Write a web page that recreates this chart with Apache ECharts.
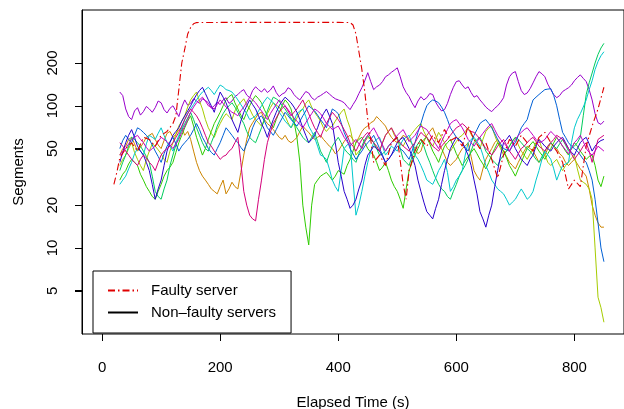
<!DOCTYPE html>
<html><head><meta charset="utf-8">
<script src="https://cdn.jsdelivr.net/npm/echarts@6/dist/echarts.min.js"></script>
<style>html,body{margin:0;padding:0;background:#fff}#c{width:624px;height:409px}</style>
</head><body><div id="c"></div>
<script>
const time = [
 30,35,40,45,50,55,60,65,70,75,80,85,90,95,100,105,110,115,120,125,
 130,135,140,145,150,155,160,165,170,175,180,185,190,195,200,205,210,215,220,225,
 230,235,240,245,250,255,260,265,270,275,280,285,290,295,300,305,310,315,320,325,
 330,335,340,345,350,355,360,365,370,375,380,385,390,395,400,405,410,415,420,425,
 430,435,440,445,450,455,460,465,470,475,480,485,490,495,500,505,510,515,520,525,
 530,535,540,545,550,555,560,565,570,575,580,585,590,595,600,605,610,615,620,625,
 630,635,640,645,650,655,660,665,670,675,680,685,690,695,700,705,710,715,720,725,
 730,735,740,745,750,755,760,765,770,775,780,785,790,795,800,805,810,815,820,825,
 830,835,840,845,850];
const purple = [
 125,118,95,84,80,92,97,86,91,99,95,90,97,108,105,94,89,96,100,92,
 84,98,110,101,104,112,108,104,112,109,105,96,100,106,102,110,114,104,108,116,
 120,126,130,119,114,128,136,130,125,132,124,129,138,124,116,121,124,134,130,120,
 114,110,118,126,123,114,110,115,118,122,126,121,116,112,110,108,105,99,94,102,
 110,122,134,150,171,148,130,136,140,148,160,165,172,178,185,160,136,124,116,105,
 97,108,116,110,114,122,120,106,98,92,94,104,120,135,148,150,140,132,136,124,
 115,118,110,104,98,94,91,96,100,106,114,140,160,170,174,148,128,120,123,132,
 145,160,174,168,160,142,130,120,114,118,126,130,134,140,150,158,165,156,148,130,
 110,88,76,74,78];
const orange = [
 45,50,52,58,60,54,48,51,55,60,62,64,58,53,50,57,64,66,60,63,
 68,70,62,66,58,48,40,35,32,30,28,26,25,24,27,30,24,26,29,27,
 26,34,45,58,70,76,82,88,90,80,75,72,68,64,60,58,62,57,55,57,
 60,66,72,68,65,61,58,60,62,58,55,52,50,46,48,52,56,60,62,58,
 55,60,66,70,72,76,78,84,80,76,72,65,60,57,55,58,62,60,58,54,
 50,46,48,56,62,66,70,62,55,50,45,40,38,40,42,46,50,52,55,44,
 35,32,30,36,42,46,50,55,58,52,48,44,40,38,36,40,44,48,52,50,
 48,44,40,42,45,50,55,52,50,46,44,40,38,40,42,39,36,34,32,26,
 20,17,15,14,14];
const yellowGreen = [
 38,42,45,50,55,47,42,38,35,42,48,54,52,49,46,42,40,48,55,63,
 72,78,85,98,110,118,125,108,95,80,70,64,60,68,75,82,88,84,80,92,
 100,106,112,102,95,86,80,76,72,80,88,97,105,101,98,90,85,76,70,75,
 82,90,95,104,110,98,90,84,78,70,66,70,72,78,84,90,95,80,70,56,
 45,48,50,56,60,58,55,50,48,55,62,66,70,62,58,54,52,57,60,64,
 68,72,75,66,60,55,52,58,65,60,55,50,48,52,56,60,62,66,70,63,
 58,54,50,58,66,70,72,62,55,50,45,48,52,57,60,53,48,45,42,46,
 50,55,58,50,45,40,38,40,42,38,35,38,40,43,45,36,30,29,28,26,
 22,10,4.5,3.8,3];
const green = [
 30,33,35,39,42,40,38,33,30,27,25,23,22,25,28,32,35,37,40,47,
 55,62,70,78,85,72,60,52,45,50,58,66,75,82,90,100,110,116,120,105,
 95,86,80,90,100,110,118,112,105,94,85,76,70,80,90,100,110,104,95,78,
 60,40,20,14,10.5,20,28,30,32,33,34,32,30,32,35,34,33,38,42,48,
 55,58,60,55,50,47,45,40,35,37,40,35,30,27,25,22,19,26,35,40,
 45,50,55,58,60,54,48,44,40,46,52,55,58,52,46,42,38,41,44,47,
 50,46,42,39,36,40,45,50,55,52,48,43,38,35,32,36,40,45,50,53,
 56,52,48,45,42,46,50,55,60,56,52,48,45,50,55,52,48,45,42,44,
 45,38,30,27,32];
const springGreen = [
 35,40,45,52,60,58,55,52,48,44,40,32,25,23,22,26,30,38,45,53,
 60,68,75,82,90,80,70,62,55,50,48,55,62,72,80,88,95,100,105,98,
 90,82,75,66,60,57,55,62,70,80,92,104,115,112,108,100,95,88,82,76,
 70,65,60,57,55,60,65,56,48,44,40,46,52,56,60,55,50,47,45,42,
 40,46,52,58,62,58,55,50,45,46,48,52,55,58,60,50,42,40,38,44,
 50,54,58,52,45,40,35,31,28,26,25,23,22,25,28,32,35,38,42,48,
 55,58,60,54,48,45,42,40,38,42,45,48,52,56,60,58,55,52,50,48,
 45,42,40,44,48,52,55,52,50,54,58,53,48,50,52,55,60,85,120,145,
 170,200,230,255,275];
const cyan = [
 28,30,32,36,40,46,50,48,45,54,62,60,58,64,70,62,55,52,48,55,
 62,70,80,88,95,102,110,118,125,130,135,128,120,130,140,136,130,128,125,118,
 110,102,95,88,80,82,85,92,100,108,115,110,105,98,90,84,78,74,70,78,
 88,92,95,84,72,66,60,52,45,44,42,36,30,27,25,35,50,53,55,30,
 17,20,25,32,40,48,55,58,60,52,45,48,52,50,48,53,58,60,62,54,
 45,42,38,34,30,29,28,31,35,38,42,34,25,27,30,32,35,45,55,58,
 60,56,52,45,38,34,30,28,26,25,24,22,20,21,22,24,26,24,22,23,
 25,30,35,42,48,45,42,36,30,34,38,39,40,55,70,80,88,98,110,130,
 150,180,205,225,240];
const azure = [
 50,57,62,58,55,62,70,68,65,62,58,53,48,44,40,46,52,56,60,54,
 48,52,55,58,62,68,75,68,60,55,50,47,45,50,55,62,70,66,62,58,
 55,51,48,54,60,70,78,82,85,78,70,66,62,68,75,82,90,85,80,76,
 72,78,85,92,100,96,92,86,80,75,70,82,95,92,88,76,65,58,50,46,
 42,45,48,52,55,58,62,56,50,45,40,42,45,48,52,50,48,45,42,48,
 55,65,75,88,100,106,110,108,105,98,90,80,70,65,60,57,55,51,48,55,
 62,68,75,78,80,75,70,64,58,54,50,49,48,52,55,62,70,75,80,95,
 110,115,120,125,130,131,132,118,100,80,65,60,55,52,50,48,45,42,40,35,
 30,22,15,10,8];
const blue = [
 40,47,55,62,68,60,52,48,45,40,35,28,22,26,30,38,48,55,62,66,
 70,78,85,92,100,110,120,128,135,122,110,100,90,108,125,115,105,92,80,72,
 65,78,90,100,110,102,95,85,75,68,60,70,80,90,100,108,115,110,105,98,
 90,80,70,62,55,58,62,70,80,88,95,85,75,55,40,32,25,22,19,20,
 22,26,30,38,45,48,52,50,48,44,40,42,45,50,55,58,60,55,50,44,
 38,30,25,21,18,17,16,19,22,28,35,42,50,55,60,58,55,50,45,38,
 30,24,18,16,14,17,20,27,35,45,55,58,62,56,50,46,42,40,38,42,
 45,52,58,55,52,50,48,52,55,58,60,55,50,47,45,50,55,58,60,54,
 48,52,55,57,58];
const pink = [
 55,52,48,45,42,40,38,42,45,43,40,38,35,40,45,48,50,52,55,60,
 65,72,80,88,95,90,85,78,70,62,55,52,48,45,42,44,45,48,50,55,
 60,40,25,20,17,16,15.5,22,30,42,55,65,75,82,90,96,100,92,85,90,
 95,102,110,98,88,78,70,65,60,68,75,82,90,85,80,74,68,62,55,52,
 48,53,58,62,65,60,55,52,48,55,62,66,70,64,58,55,52,50,48,52,
 55,60,65,62,60,56,52,50,48,52,55,58,62,66,70,72,75,72,68,66,
 65,62,58,54,50,48,45,48,52,55,58,53,48,45,42,46,50,52,55,58,
 60,56,52,50,48,52,55,58,62,60,58,54,50,46,42,45,48,52,55,48,
 40,48,58,60,62];
const magenta = [
 45,48,50,54,58,60,62,58,55,51,48,50,52,56,60,58,56,53,50,54,
 58,65,72,80,90,98,105,110,115,108,100,98,95,102,110,104,98,94,90,88,
 85,92,98,106,115,110,105,98,92,86,80,88,95,102,110,105,100,94,88,82,
 78,74,70,76,82,88,95,92,88,82,75,72,68,70,72,66,60,56,52,55,
 58,54,50,56,62,66,70,64,58,53,48,52,55,58,62,65,68,62,56,59,
 62,67,72,70,68,63,58,54,50,56,62,68,75,78,80,75,70,64,58,55,
 52,56,60,64,68,72,75,68,62,58,55,52,48,53,58,62,65,68,70,66,
 62,58,55,56,58,62,66,63,60,56,52,49,46,50,55,58,62,56,50,47,
 45,48,52,50,48];
const faultyTime = [20,25,30,40,50,60,70,80,90,100,110,120,125,130,135,140,145,150,155,160,200,250,300,350,400,420,425,430,435,440,445,450,455,460,470,480,490,500,510,515,520,530,540,550,560,570,580,590,600,610,620,630,640,650,660,670,680,690,700,710,720,730,740,750,760,770,780,790,800,810,820,830,840,850];
const faulty = [28,34,43,50,55,48,60,58,52,62,66,75,85,130,200,250,320,355,378,385,386,386,386,386,386,385,370,320,240,180,125,80,58,40,45,38,55,60,28,22,35,48,58,52,62,55,68,57,60,52,72,58,50,55,42,31,45,58,52,62,55,48,60,65,55,48,40,26,30,27,52,72,95,135];
const xTicks = [0,200,400,600,800];
const yTicks = [5,10,20,50,100,200];
const xMin = -34, xMax = 884;

const normal = [
  {d: purple, c:'#9900CC'}, {d: orange, c:'#CC8400'}, {d: yellowGreen, c:'#A6CC00'},
  {d: green, c:'#2ECC00'}, {d: springGreen, c:'#00CC5C'}, {d: cyan, c:'#00C8CC'},
  {d: azure, c:'#0060D6'}, {d: blue, c:'#2800CC'}, {d: pink, c:'#D4007A'}, {d: magenta, c:'#C400C4'}
];
const L = v => Math.log10(v);
const series = normal.map((s,i) => ({
  type:'line', name:'s'+i, data: time.map((t,k)=>[t, L(s.d[k])]),
  symbol:'none', showSymbol:false, lineStyle:{width:1, color:s.c}, itemStyle:{color:s.c},
  silent:true, z:2
}));
series.push({type:'line', name:'Faulty server', data: faultyTime.map((t,k)=>[t, L(faulty[k])]),
  symbol:'none', showSymbol:false, lineStyle:{width:1.1, color:'#E00000', type:[7,3,1.5,3]}, itemStyle:{color:'#E00000'}, z:3});
series.push({type:'line', name:'Non–faulty servers', data: [], symbol:'none',
  lineStyle:{width:1.1, color:'#000'}, itemStyle:{color:'#000'}});
// y-axis tick marks, placed through the axis scales
series.push({type:'custom', name:'yticks', silent:true, clip:false, z:5,
  data: yTicks.map(v => [xMin, L(v)]),
  renderItem: (params, api) => {
    const p = api.coord([api.value(0), api.value(1)]);
    const y = Math.round(p[1]) + 0.5, x = Math.round(p[0]);
    return {type:'line', shape:{x1:x-7, y1:y, x2:x, y2:y}, style:{stroke:'#000', lineWidth:1}};
  }});

const font = 'Liberation Sans, Arial, sans-serif';
const chart = echarts.init(document.getElementById('c'), null, {renderer:'canvas'});
chart.setOption({
  animation:false,
  backgroundColor:'#fff',
  grid:{left:82, right:0, top:10, bottom:75, show:true, borderColor:'#000', borderWidth:1,
    backgroundColor:'transparent', outerBoundsMode:'none', containLabel:false},
  xAxis:{type:'value', min:xMin, max:xMax,
    name:'Elapsed Time (s)', nameLocation:'middle', nameGap:61,
    nameTextStyle:{fontFamily:font, fontSize:15, color:'#000'},
    axisLine:{show:false, onZero:false}, splitLine:{show:false},
    axisTick:{show:true, length:7, inside:false, customValues:xTicks, lineStyle:{color:'#000'}},
    axisLabel:{customValues:xTicks, margin:26, fontFamily:font, fontSize:15, color:'#000'}},
  yAxis:{type:'value', min:L(2.48), max:L(472),
    name:'Segments', nameLocation:'middle', nameGap:56, nameRotate:90,
    nameTextStyle:{fontFamily:font, fontSize:15, color:'#000'},
    axisLine:{show:true, onZero:false, lineStyle:{color:'#000', width:1}}, splitLine:{show:false},
    axisTick:{show:true, length:7, inside:false, customValues:yTicks.map(L), lineStyle:{color:'#000', width:1}},
    axisLabel:{customValues:yTicks.map(L), rotate:90, margin:22, fontFamily:font, fontSize:15, color:'#000',
      formatter: v => String(Math.round(Math.pow(10, v)))}},
  legend:{orient:'vertical', left:93, top:271, data:['Faulty server','Non–faulty servers'],
    backgroundColor:'#fff', borderColor:'#000', borderWidth:1, borderRadius:0,
    padding:[12,15,13,14], itemGap:7, itemWidth:30, itemHeight:14,
    itemStyle:{opacity:0},
    textStyle:{fontFamily:font, fontSize:15, color:'#000', padding:[0,0,0,8]}},
  series
});
</script></body></html>
